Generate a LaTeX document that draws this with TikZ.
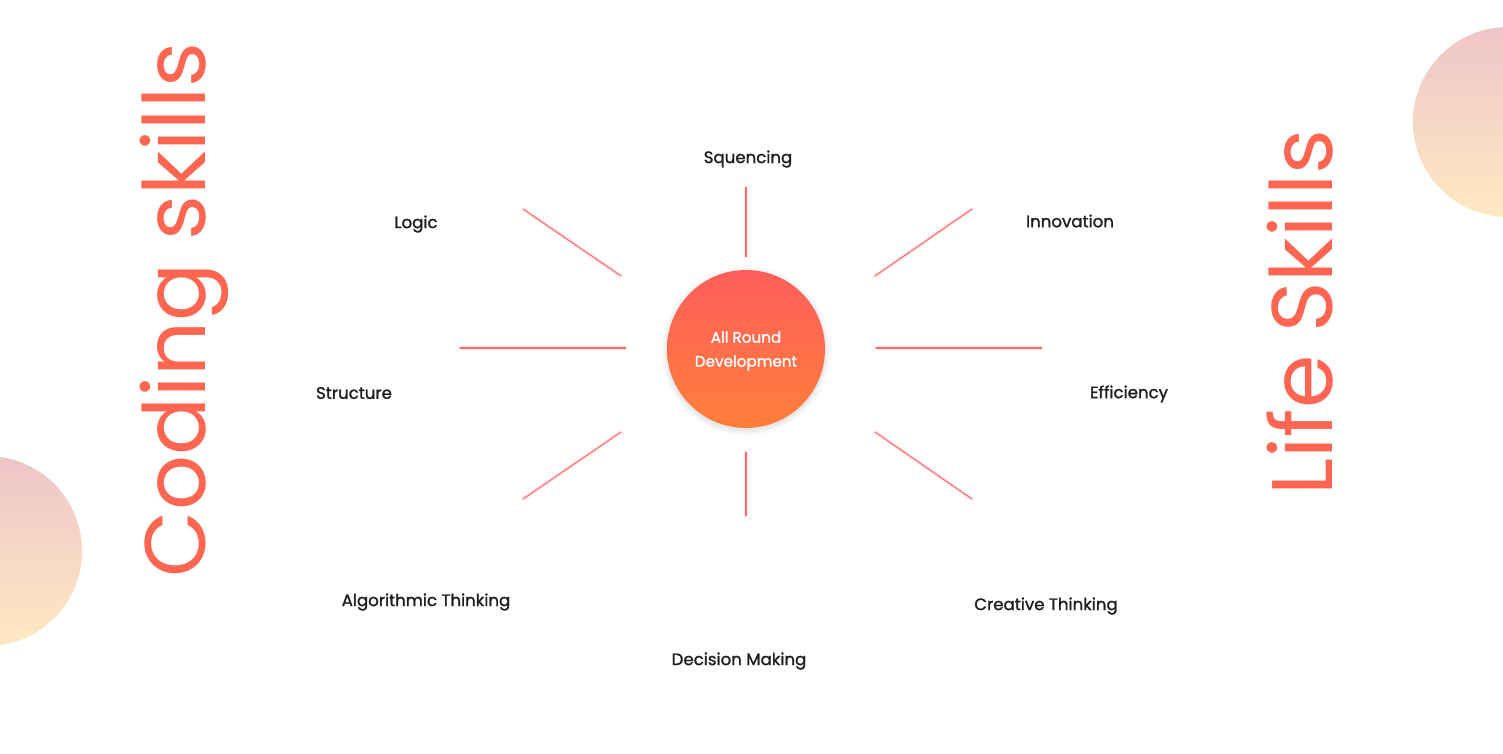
\documentclass[tikz,border=0pt]{standalone}
\usepackage{fontspec}
\setmainfont{Poppins}
\newfontfamily\popmed{Poppins}[FakeBold=1.3]
\usetikzlibrary{shadings}
\definecolor{bigred}{HTML}{FF6652}
\definecolor{raylc}{HTML}{FF6B6B}
\definecolor{ctop}{HTML}{FF5E5B}
\definecolor{cbot}{HTML}{FF7F3A}
\definecolor{btop}{HTML}{EEC5C8}
\definecolor{bbot}{HTML}{FFE9C2}
\definecolor{lbl}{HTML}{1E1E1E}
\tikzset{
  ray/.style={draw=raylc, line width=1.1pt},
  rayglow/.style={draw=raylc, line width=4pt, opacity=0.12, line cap=round},
  lab/.style={text=lbl, font=\popmed\fontsize{16.6}{18}\selectfont, inner sep=0pt},
  bigtxt/.style={text=bigred, font=\fontsize{86}{100}\selectfont, rotate=90, inner sep=0pt, anchor=base},
  bubble/.style={circle, minimum size=190pt, inner sep=0pt, top color=btop, bottom color=bbot, draw=none},
  hub/.style={circle, minimum size=158pt, inner sep=0pt, top color=ctop, bottom color=cbot, draw=none},
  hubtext/.style={text=white, align=center, inner sep=0pt, font=\popmed\fontsize{15.2}{24}\selectfont}
}
\begin{document}
\begin{tikzpicture}[x=1pt,y=-1pt]
\useasboundingbox (0,0) rectangle (1503,753);
\clip (0,0) rectangle (1503,753);
\fill[white] (0,0) rectangle (1503,753);
% bubbles
\node[bubble] (bubR) at (1508,122) {};
\node[bubble] (bubL) at (-13,551) {};
% big texts
\node[bigtxt] (coding) at (205,310) {Coding skills};
\node[bigtxt] (life) at (1332,312.5) {Life Skills};
% hub shadow
\foreach \r/\o in {85/0.015,83/0.02,81.5/0.025,80/0.03} {
  \fill[black, opacity=\o] (746,351) circle (\r);
}
\node[hub] (hub) at (746,349) {};
\node[hubtext] (hubtxt) at ([yshift=-2pt]hub.center) {All Round\\Development};
% ray end points
\coordinate (t1) at (746,187); \coordinate (t2) at (746,257);
\coordinate (b1) at (746,452); \coordinate (b2) at (746,516);
\coordinate (l1) at (460,348); \coordinate (l2) at (626,348);
\coordinate (r1) at (876,348); \coordinate (r2) at (1042,348);
\coordinate (ul1) at (523,209); \coordinate (ul2) at (621,276);
\coordinate (ur1) at (972,209); \coordinate (ur2) at (875,276);
\coordinate (ll1) at (621,432); \coordinate (ll2) at (523,499);
\coordinate (lr1) at (875,432); \coordinate (lr2) at (972,499);
\foreach \a/\b in {t1/t2,b1/b2,l1/l2,r1/r2,ul1/ul2,ur1/ur2,ll1/ll2,lr1/lr2} {
  \draw[rayglow] (\a) -- (\b);
  \draw[ray] (\a) -- (\b);
}
% labels
\node[lab] (sq) at (748,159) {Squencing};
\node[lab] (logic) at (416,224) {Logic};
\node[lab] (innov) at (1070,221) {Innovation};
\node[lab] (struct) at (354,393) {Structure};
\node[lab] (eff) at (1129,394) {Efficiency};
\node[lab] (algo) at (426,602) {Algorithmic Thinking};
\node[lab] (creat) at (1046,606) {Creative Thinking};
\node[lab] (dec) at (739,661) {Decision Making};
\end{tikzpicture}
\end{document}
